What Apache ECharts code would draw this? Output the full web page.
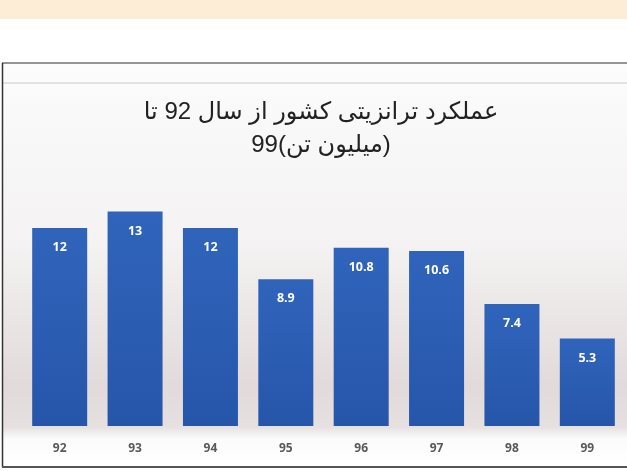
<!DOCTYPE html>
<html>
<head>
<meta charset="utf-8">
<script src="https://cdn.jsdelivr.net/npm/echarts@6/dist/echarts.min.js"></script>
<style>
  html, body { margin: 0; padding: 0; background: #fff; }
  #chart { width: 627px; height: 471px; }
</style>
</head>
<body>
<div id="chart"></div>
<script>
// data
const years = ['92', '93', '94', '95', '96', '97', '98', '99'];
const transit = [12, 13, 12, 8.9, 10.8, 10.6, 7.4, 5.3];
const titleLines = ['عملکرد ترانزیتی کشور از سال 92 تا', '99(میلیون تن)'];

const chart = echarts.init(document.getElementById('chart'));

const option = {
  animation: false,
  backgroundColor: '#fff',
  graphic: [
    // peach band at the very top
    { type: 'rect', z: -10, shape: { x: 0, y: 0, width: 627, height: 19 }, style: { fill: '#fdecd6' } },
    // chart frame with soft grey gradient
    {
      type: 'rect', z: -10,
      shape: { x: 2, y: 63, width: 625, height: 404 },
      style: {
        fill: new echarts.graphic.LinearGradient(0, 0, 0, 1, [
          { offset: 0, color: '#fcfcfc' },
          { offset: 0.45, color: '#f4f2f2' },
          { offset: 0.8, color: '#e2dada' },
          { offset: 0.9, color: '#e6e0e0' },
          { offset: 0.93, color: '#fbfbfb' },
          { offset: 1, color: '#ffffff' }
        ])
      }
    },
    { type: 'line', z: -5, shape: { x1: 3, y1: 83, x2: 627, y2: 83 }, style: { stroke: '#e2e2e2', lineWidth: 2 } },
    { type: 'line', z: -5, shape: { x1: 2, y1: 63, x2: 627, y2: 63 }, style: { stroke: '#727272', lineWidth: 1.5 } },
    { type: 'line', z: -5, shape: { x1: 2.5, y1: 63, x2: 2.5, y2: 467 }, style: { stroke: '#333', lineWidth: 1.5 } },
    { type: 'line', z: -5, shape: { x1: 2, y1: 467, x2: 627, y2: 467 }, style: { stroke: '#555', lineWidth: 2 } }
  ],
  title: {
    text: titleLines.join('\n'),
    left: 321,
    top: 96,
    padding: 0,
    textAlign: 'center',
    textStyle: {
      fontFamily: "'Liberation Sans', 'DejaVu Sans', sans-serif",
      fontSize: 24,
      fontWeight: 'normal',
      color: '#222',
      lineHeight: 33
    }
  },
  grid: {
    left: 22,
    right: 2,
    top: 195,
    bottom: 45
  },
  xAxis: {
    type: 'category',
    data: years,
    axisLine: { show: false },
    axisTick: { show: false },
    axisLabel: {
      margin: 17,
      color: '#595959',
      fontSize: 12,
      fontWeight: 'bold',
      fontFamily: "'Open Sans', sans-serif"
    }
  },
  yAxis: {
    type: 'value',
    min: 0,
    max: 14,
    show: false,
    splitLine: { show: false }
  },
  series: [
    {
      type: 'bar',
      data: transit,
      barWidth: 55,
      itemStyle: {
        color: new echarts.graphic.LinearGradient(0, 0, 0, 1, [
          { offset: 0, color: '#3064bb' },
          { offset: 1, color: '#2656aa' }
        ])
      },
      label: {
        show: true,
        position: 'insideTop',
        distance: 13,
        color: '#fff',
        fontSize: 12.5,
        fontWeight: 'bold',
        fontFamily: "'Open Sans', sans-serif"
      }
    }
  ]
};

chart.setOption(option);
</script>
</body>
</html>
